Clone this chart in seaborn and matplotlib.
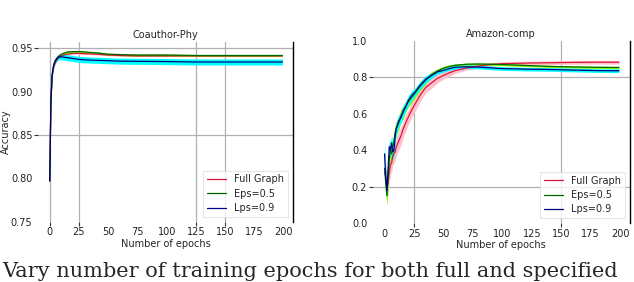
import matplotlib
matplotlib.use("Agg")
import matplotlib.pyplot as plt
import seaborn as sns
import numpy as np

# ---- Coauthor-Phy (left panel) ----
phy_epochs = [0, 1, 2, 3, 4, 5, 6, 7, 8, 10, 12, 15, 20, 25, 30, 40, 50, 60, 75, 100, 125, 150, 175, 199]
phy_full = [0.797, 0.889, 0.917, 0.926, 0.931, 0.934, 0.936, 0.938, 0.939, 0.941, 0.942, 0.943, 0.944, 0.944,
            0.9435, 0.943, 0.942, 0.9415, 0.941, 0.941, 0.941, 0.941, 0.941, 0.941]
phy_eps = [0.797, 0.889, 0.918, 0.928, 0.933, 0.936, 0.938, 0.940, 0.941, 0.943, 0.944, 0.9455, 0.946, 0.946,
           0.9455, 0.9445, 0.943, 0.9425, 0.942, 0.942, 0.9415, 0.9415, 0.9415, 0.9415]
phy_lps = [0.797, 0.889, 0.918, 0.928, 0.933, 0.936, 0.938, 0.939, 0.940, 0.940, 0.9395, 0.939, 0.938, 0.937,
           0.9365, 0.936, 0.9355, 0.935, 0.9348, 0.9345, 0.934, 0.934, 0.934, 0.934]
phy_full_sd = [0.004, 0.004, 0.003, 0.002, 0.002, 0.0015, 0.0012, 0.001, 0.001, 0.001, 0.001, 0.001, 0.001, 0.001,
               0.0008, 0.0008, 0.0008, 0.0008, 0.0008, 0.0008, 0.0008, 0.0008, 0.0008, 0.0008]
phy_eps_sd = [0.004, 0.004, 0.003, 0.002, 0.002, 0.0015, 0.0015, 0.0015, 0.0015, 0.0015, 0.0015, 0.0012, 0.0012,
              0.0012, 0.0012, 0.0012, 0.0012, 0.0012, 0.0012, 0.0012, 0.0012, 0.0012, 0.0012, 0.0012]
phy_lps_sd = [0.004, 0.004, 0.003, 0.003, 0.003, 0.003, 0.003, 0.003, 0.0035, 0.0035, 0.0035, 0.0035, 0.0035,
              0.0035, 0.0035, 0.0035, 0.0035, 0.0035, 0.0035, 0.0035, 0.0035, 0.0035, 0.0035, 0.0035]

# ---- Amazon-comp (right panel) ----
amz_epochs = [0, 1, 2, 3, 4, 5, 6, 7, 8, 9, 10, 12, 14, 16, 18, 20, 23, 26, 30, 35, 40, 45, 50, 55, 60,
              70, 80, 90, 100, 120, 140, 160, 180, 199]
amz_full = [0.28, 0.25, 0.20, 0.22, 0.28, 0.32, 0.33, 0.37, 0.38, 0.39, 0.42, 0.45, 0.48, 0.52, 0.55, 0.58,
            0.62, 0.655, 0.70, 0.745, 0.77, 0.795, 0.81, 0.825, 0.837, 0.852, 0.862, 0.87, 0.875, 0.878,
            0.88, 0.882, 0.883, 0.883]
amz_eps = [0.30, 0.22, 0.15, 0.25, 0.35, 0.40, 0.38, 0.42, 0.45, 0.50, 0.52, 0.55, 0.59, 0.61, 0.64, 0.665,
           0.69, 0.715, 0.75, 0.785, 0.815, 0.835, 0.85, 0.86, 0.866, 0.872, 0.873, 0.872, 0.87, 0.865,
           0.86, 0.857, 0.855, 0.854]
amz_lps = [0.38, 0.25, 0.18, 0.30, 0.42, 0.40, 0.44, 0.39, 0.40, 0.48, 0.52, 0.56, 0.58, 0.62, 0.64, 0.67,
           0.70, 0.72, 0.755, 0.79, 0.81, 0.83, 0.838, 0.848, 0.855, 0.858, 0.856, 0.852, 0.848, 0.845,
           0.843, 0.84, 0.837, 0.836]
amz_full_sd = [0.05, 0.06, 0.08, 0.06, 0.05, 0.05, 0.05, 0.05, 0.05, 0.05, 0.05, 0.05, 0.05, 0.045, 0.045,
               0.04, 0.04, 0.04, 0.035, 0.03, 0.03, 0.025, 0.02, 0.02, 0.015, 0.012, 0.01, 0.01, 0.01, 0.01,
               0.01, 0.01, 0.01, 0.01]
amz_eps_sd = [0.06, 0.06, 0.05, 0.06, 0.05, 0.05, 0.05, 0.04, 0.04, 0.04, 0.04, 0.04, 0.035, 0.035, 0.03,
              0.03, 0.03, 0.025, 0.025, 0.02, 0.015, 0.012, 0.01, 0.008, 0.008, 0.006, 0.006, 0.006, 0.006,
              0.006, 0.006, 0.006, 0.006, 0.006]
amz_lps_sd = [0.06, 0.05, 0.04, 0.05, 0.04, 0.04, 0.04, 0.04, 0.04, 0.035, 0.035, 0.03, 0.03, 0.03, 0.025,
              0.025, 0.025, 0.02, 0.02, 0.02, 0.015, 0.012, 0.01, 0.01, 0.01, 0.01, 0.01, 0.01, 0.01, 0.01,
              0.01, 0.01, 0.01, 0.01]

labels = ['Full Graph', 'Eps=0.5', 'Lps=0.9']
line_colors = ['#dc143c', '#006400', '#000080']
band_colors = ['#ffc0cb', '#7fff00', '#00ffff']
x_ticks = [0, 25, 50, 75, 100, 125, 150, 175, 200]

sns.set_theme(style='white')
plt.rcParams['font.family'] = ['DejaVu Sans']

fig = plt.figure(figsize=(6.34, 2.82), dpi=100)
ax1 = fig.add_axes([0.060, 0.213, 0.402, 0.638])
ax2 = fig.add_axes([0.588, 0.209, 0.405, 0.646])


def draw_panel(ax, epochs, means, sds, title, ylim, yticks, ygrid, xgrid, ylabel):
    x = np.array(epochs)
    for m, s, bc in zip(means, sds, band_colors):
        m = np.array(m)
        s = np.array(s)
        ax.fill_between(x, m - s, m + s, color=bc, lw=0, zorder=1)
    for m, lab, lc in zip(means, labels, line_colors):
        sns.lineplot(x=x, y=m, ax=ax, color=lc, lw=0.9, label=lab, zorder=3)

    ax.set_xlim(-10, 208)
    ax.set_ylim(*ylim)
    ax.xaxis.remove_overlapping_locs = False
    ax.yaxis.remove_overlapping_locs = False
    ax.set_xticks(x_ticks)
    ax.set_yticks(yticks)
    ax.set_xticks(xgrid, minor=True)
    ax.set_yticks(ygrid, minor=True)
    ax.tick_params(which='major', length=0, labelsize=7, pad=4, colors='#222222')
    ax.tick_params(which='minor', length=3, width=0.8, color='#333333', bottom=True, left=True)
    ax.set_axisbelow(True)
    ax.grid(False, which='major')
    ax.grid(True, which='minor', color='#b0b0b0', lw=0.9)
    for side in ['left', 'top', 'bottom']:
        ax.spines[side].set_visible(False)
    ax.spines['right'].set_color('black')
    ax.spines['right'].set_linewidth(1.0)

    ax.set_title(title, fontsize=7, pad=3)
    ax.set_xlabel('Number of epochs', fontsize=7, labelpad=1)
    ax.set_ylabel(ylabel, fontsize=7, labelpad=3)
    leg = ax.legend(loc='lower right', fontsize=7, frameon=True, handlelength=2.0,
                    borderaxespad=0.5, fancybox=False, labelspacing=0.45)
    leg.get_frame().set_edgecolor('#e0e0e0')
    leg.get_frame().set_linewidth(0.8)


draw_panel(ax1, phy_epochs, [phy_full, phy_eps, phy_lps], [phy_full_sd, phy_eps_sd, phy_lps_sd],
           'Coauthor-Phy', (0.75, 0.957), [0.75, 0.80, 0.85, 0.90, 0.95], [0.85, 0.95],
           [0, 25, 125, 150], 'Accuracy')
ax1.set_yticklabels(['0.75', '0.80', '0.85', '0.90', '0.95'])
ax1.yaxis.set_label_coords(-0.105, 0.5)

draw_panel(ax2, amz_epochs, [amz_full, amz_eps, amz_lps], [amz_full_sd, amz_eps_sd, amz_lps_sd],
           'Amazon-comp', (0.0, 1.0), [0.0, 0.2, 0.4, 0.6, 0.8, 1.0], [0.2, 0.8],
           [25, 150], '')

fig.text(0.004, 0.004, 'Vary number of training epochs for both full and specified',
         family='DejaVu Serif', fontsize=15, va='bottom', ha='left')

fig.savefig('out.png', dpi=100)
